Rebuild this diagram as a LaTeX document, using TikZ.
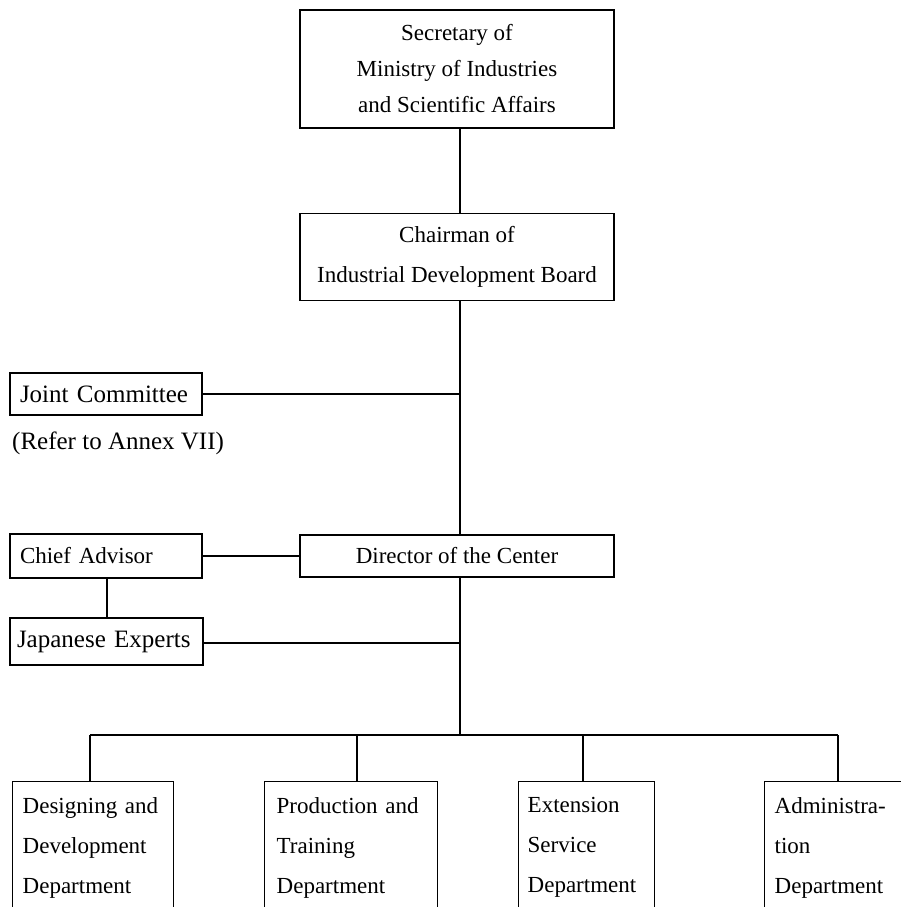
\documentclass[tikz,border=0pt]{standalone}
\usepackage{fontspec}
\setmainfont{Liberation Serif}
\begin{document}
\begin{tikzpicture}[x=1pt,y=-1pt,
  chart/.style={font=\fontsize{23}{38}\selectfont},
  widechart/.style={font=\fontsize{25}{38}\selectfont},
  box/.style={chart,draw,line width=1.4pt,inner sep=0pt},
  leftbox/.style={box,align=left,inner xsep=10pt},
  dept/.style={leftbox,anchor=north west,minimum height=132pt,
    font=\fontsize{23}{40}\selectfont},
  link/.style={line width=1.4pt}]
\useasboundingbox (0,0) rectangle (901,907);
\clip (0,0) rectangle (901,907);

% upper hierarchy
\node[box,align=center,minimum width=314pt,minimum height=118pt,
  font=\fontsize{23}{36}\selectfont] (sec) at (457,69)
  {Secretary of\\Ministry of Industries\\and Scientific Affairs};
\node[box,align=center,minimum width=314pt,minimum height=87pt,
  font=\fontsize{23}{40}\selectfont] (chair) at (457,257)
  {Chairman of\\Industrial Development Board};
\node[leftbox,widechart,text width=172pt,inner xsep=10pt,minimum height=42pt] (jc) at (106,394)
  {Joint Committee};
\node[widechart,anchor=west,inner sep=0pt] (ref) at (12,443) {(Refer to Annex VII)};
\node[leftbox,text width=172pt,minimum height=44pt] (ca) at (106,556) {Chief Advisor};
\node[box,align=center,minimum width=314pt,minimum height=42pt] (dir) at (457,556)
  {Director of the Center};
\node[leftbox,widechart,text width=179pt,inner xsep=7pt,minimum height=47pt] (je) at (106.5,641.5)
  {Japanese Experts};

% departments
\node[dept,text width=141pt] (dd) at (12,781) {Designing and\\Development\\Department};
\node[dept,text width=149pt,inner xsep=12pt] (pt) at (264,781) {Production and\\Training\\Department};
\node[dept,text width=118pt,inner xsep=9pt] (es) at (518,781) {Extension\\Service\\Department};
\node[dept,text width=121pt] (ad) at (764,781) {Administra-\\tion\\Department};

% junction points
\coordinate (trunk) at (460,0);
\coordinate (bus) at (460,735);
\coordinate (jct) at (460,394);
\coordinate (jet) at (460,643);
\coordinate (busl) at (90,735);
\coordinate (busr) at (838,735);

% connectors
\draw[link] (sec.south -| trunk) -- (chair.north -| trunk);
\draw[link] (chair.south -| trunk) -- (dir.north -| trunk);
\draw[link] (jc.east) -- (jct);
\draw[link] (ca.east) -- (dir.west);
\draw[link] (ca.south -| 107,0) -- (je.north -| 107,0);
\draw[link] (je.east |- jet) -- (jet);
\draw[link] (dir.south -| trunk) -- (bus);
\draw[link] (busl) -- (busr);
\draw[link] (busl) -- (dd.north -| busl);
\draw[link] (bus -| 357,0) -- (pt.north -| 357,0);
\draw[link] (bus -| 583,0) -- (es.north -| 583,0);
\draw[link] (busr) -- (ad.north -| busr);
\end{tikzpicture}
\end{document}
